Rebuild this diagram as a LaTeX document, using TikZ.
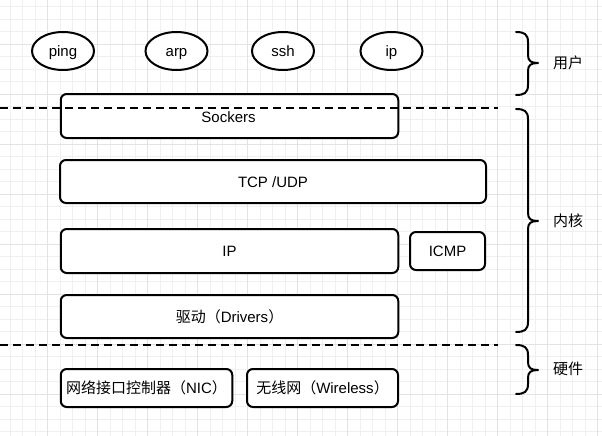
\documentclass[tikz,border=0pt]{standalone}
\usepackage{fontspec}
\setmainfont{Liberation Sans}
\newfontfamily\cjk{Noto Sans CJK SC}
\usetikzlibrary{shapes.geometric}
\newcommand\drawbrace[4]{% x-end, top, bottom, tipy
  \draw[bracestyle] (#1,#2) .. controls (#1+8,#2) and (#1+12,#2+2) .. (#1+12,#2+10)
    -- (#1+12,#4-8) .. controls (#1+12,#4-2) and (#1+15,#4) .. (#1+22,#4)
    .. controls (#1+15,#4) and (#1+12,#4+2) .. (#1+12,#4+8)
    -- (#1+12,#3-10) .. controls (#1+12,#3-2) and (#1+8,#3) .. (#1,#3);}
\begin{document}
\begin{tikzpicture}[x=1pt,y=-1pt,
  every node/.style={font=\fontsize{15}{18}\selectfont, text height=13pt, text depth=1.5pt},
  layer/.style={draw=black, line width=2pt, rounded corners=6pt, fill=white, inner sep=0pt},
  tool/.style={draw=black, line width=2pt, ellipse, fill=white, minimum width=62pt, minimum height=38pt, inner sep=0pt},
  sep/.style={line width=2pt, dash pattern=on 8pt off 5pt},
  bracestyle/.style={line width=2pt, line cap=round, line join=round},
  grid minor/.style={draw=black!6, line width=0.6pt},
  grid major/.style={draw=black!11, line width=0.6pt}]
\useasboundingbox (0,0) rectangle (602,436);
% background grid
\foreach \gx in {10,22.5,...,602} {\draw[grid minor] (\gx,0) -- (\gx,436);}
\foreach \gy in {6.5,19,...,436} {\draw[grid minor] (0,\gy) -- (602,\gy);}
\foreach \gx in {47.5,97.5,...,602} {\draw[grid major] (\gx,0) -- (\gx,436);}
\foreach \gy in {44,94,...,436} {\draw[grid major] (0,\gy) -- (602,\gy);}
% user tools
\node[tool] (ping) at (63,51) {ping};
\node[tool] (arp) at (176.5,51) {arp};
\node[tool] (ssh) at (283,51) {ssh};
\node[tool] (ipt) at (391.5,51) {ip};
% kernel layers
\node[layer, minimum width=337.5pt, minimum height=44pt] (sock) at (229.5,116) {};
\node (socktext) at (228.5,117) {Sockers};
\node[layer, minimum width=426pt, minimum height=43pt] (tcp) at (273,181.5) {TCP /UDP};
\node[layer, minimum width=337.5pt, minimum height=44pt] (ip) at (229.5,251) {IP};
\node[layer, minimum width=75pt, minimum height=38pt] (icmp) at (447.5,251) {ICMP};
\node[layer, minimum width=337.5pt, minimum height=43pt] (drv) at (229.5,316.5) {{\cjk 驱动（}Drivers{\cjk ）}};
% hardware
\node[layer, minimum width=171.5pt, minimum height=38pt] (nic) at (146.5,388) {{\cjk 网络接口控制器（}NIC{\cjk ）}};
\node[layer, minimum width=151pt, minimum height=38pt] (wl) at (322.5,388) {{\cjk 无线网（}Wireless{\cjk ）}};
% separators
\coordinate (s1a) at (0,108); \coordinate (s1b) at (498,108);
\coordinate (s2a) at (0,345); \coordinate (s2b) at (498,345);
\draw[sep] (s1a) -- (s1b);
\draw[sep] (s2a) -- (s2b);
% braces
\drawbrace{516}{32}{95}{63}
\drawbrace{516}{109}{332}{221}
\drawbrace{516}{345}{394}{370}
\node (user) at (568,63) {\cjk 用户};
\node (kern) at (568,221) {\cjk 内核};
\node (hw) at (568,369) {\cjk 硬件};
\end{tikzpicture}
\end{document}
